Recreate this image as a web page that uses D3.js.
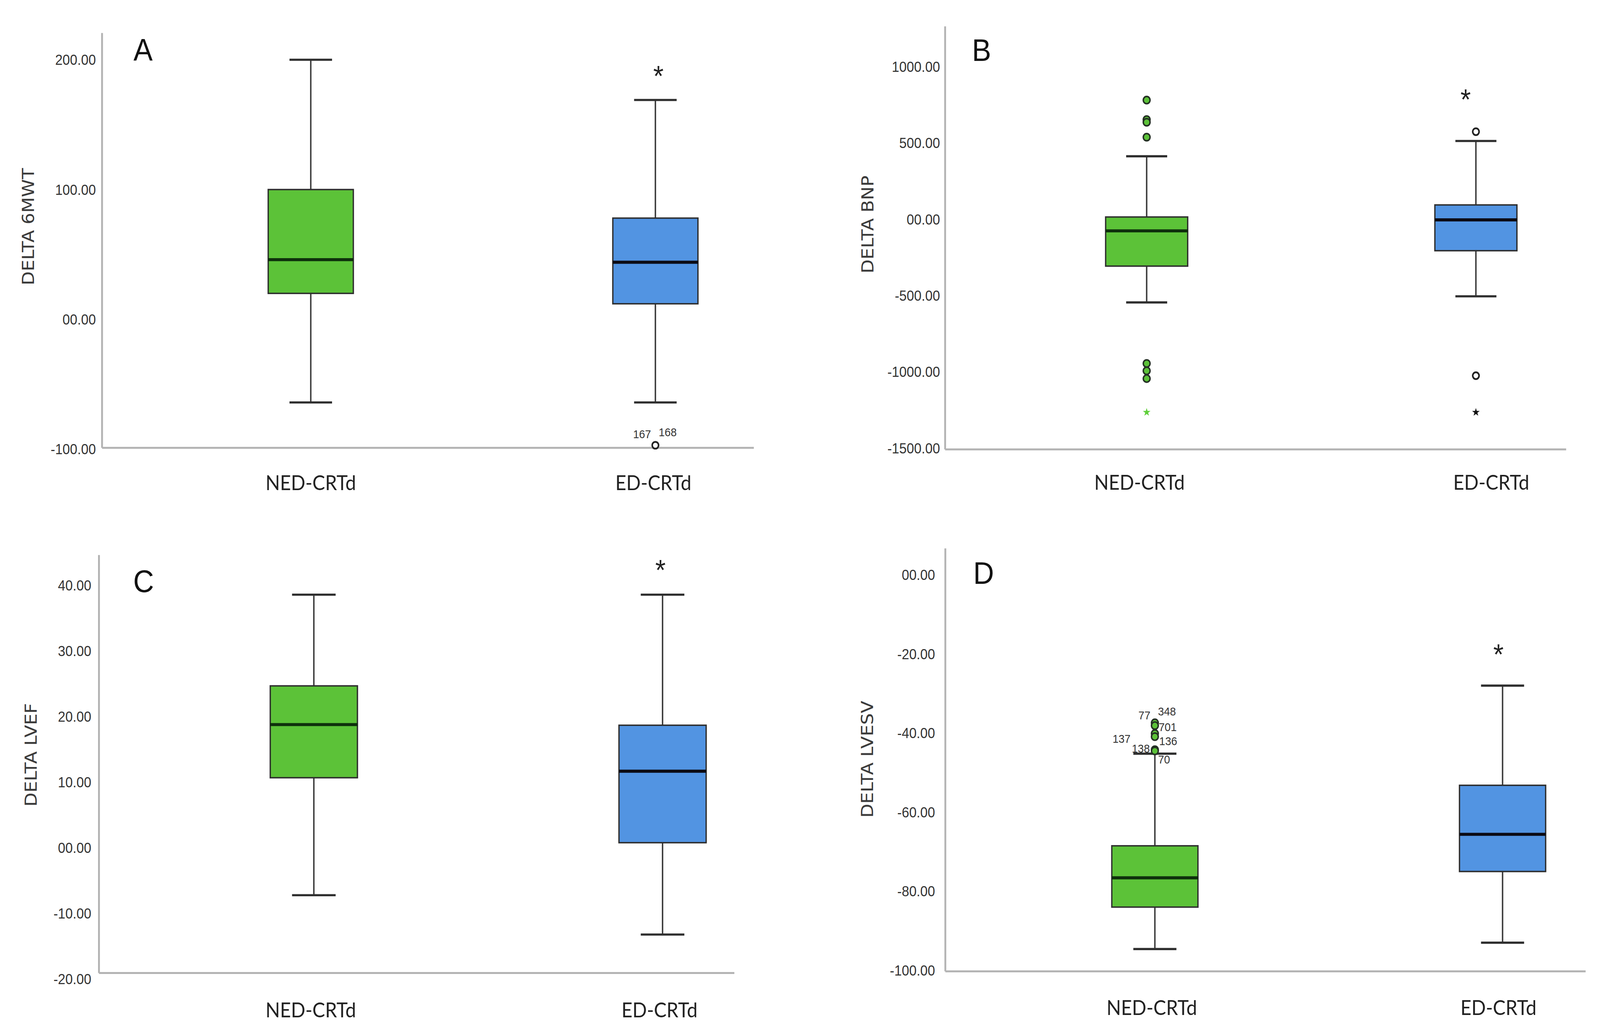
<!DOCTYPE html>
<html><head><meta charset="utf-8">
<script src="https://cdn.jsdelivr.net/npm/d3@7"></script>
<style>html,body{margin:0;padding:0;background:#fff;width:100%;height:100%;overflow:hidden;} svg{display:block;width:100vw;height:100vh;}</style>
</head><body>
<svg id="chart"></svg>
<script>
// ---------------- DATA ----------------
const categories = ["NED-CRTd", "ED-CRTd"];

// Panel A – DELTA 6MWT
const aTitle = "DELTA 6MWT";
const aTickValues = [200, 100, 0, -100];
const aTickLabels = ["200.00", "100.00", "00.00", "-100.00"];
const aLow = [-64, -64];
const aQ1 = [20, 12];
const aMedian = [46, 44];
const aQ3 = [100, 78];
const aHigh = [200, 169];
const aOutlierGroup = [1];
const aOutlierValue = [-97];
const aOutlierKind = ["circle"];
const aCaseLabels = ["167", "168"];
const aCaseLabelOf = [0, 0];
const aSigValue = 192.6;

// Panel B – DELTA BNP
const bTitle = "DELTA BNP";
const bTickValues = [1000, 500, 0, -500, -1000, -1500];
const bTickLabels = ["1000.00", "500.00", "00.00", "-500.00", "-1000.00", "-1500.00"];
const bLow = [-545, -505];
const bQ1 = [-307, -206];
const bMedian = [-76, -4];
const bQ3 = [15, 94];
const bHigh = [413, 513];
const bOutlierGroup = [0, 0, 0, 0, 0, 0, 0, 0, 1, 1, 1];
const bOutlierValue = [781, 653, 636, 538, -945, -993, -1044, -1265, 574, -1025, -1265];
const bOutlierKind = ["circle", "circle", "circle", "circle", "circle", "circle", "circle", "extreme", "circle", "circle", "extreme"];
const bCaseLabels = [];
const bCaseLabelOf = [];
const bSigValue = 830;

// Panel C – DELTA LVEF
const cTitle = "DELTA LVEF";
const cTickValues = [40, 30, 20, 10, 0, -10, -20];
const cTickLabels = ["40.00", "30.00", "20.00", "10.00", "00.00", "-10.00", "-20.00"];
const cLow = [-7.2, -13.2];
const cQ1 = [10.7, 0.8];
const cMedian = [18.8, 11.7];
const cQ3 = [24.7, 18.7];
const cHigh = [38.6, 38.6];
const cOutlierGroup = [];
const cOutlierValue = [];
const cOutlierKind = [];
const cCaseLabels = [];
const cCaseLabelOf = [];
const cSigValue = 43.4;

// Panel D – DELTA LVESV
const dTitle = "DELTA LVESV";
const dTickValues = [0, -20, -40, -60, -80, -100];
const dTickLabels = ["00.00", "-20.00", "-40.00", "-60.00", "-80.00", "-100.00"];
const dLow = [-94.6, -93];
const dQ1 = [-84, -75];
const dMedian = [-76.6, -65.6];
const dQ3 = [-68.5, -53.2];
const dHigh = [-45.2, -28];
const dOutlierGroup = [0, 0, 0, 0, 0, 0];
const dOutlierValue = [-37.4, -38.1, -40.1, -40.9, -44.2, -44.5];
const dOutlierKind = ["circle", "circle", "circle", "circle", "circle", "circle"];
const dCaseLabels = ["348", "77", "701", "137", "136", "138", "70"];
const dCaseLabelOf = [0, 0, 1, 3, 3, 4, 5];
const dSigValue = -18.4;

// ---------------- LAYOUT (display units, viewBox 1560 x 937) ----------------
const layouts = {
  A: {axisX: 99.5, axisTop: 30, axisY: 407, axisEnd: 735, yHi: 54.3, yLo: 408.2, centers: [303, 639], boxW: 83, pad: 6,
      titleX: 27.5, titleY: 206, letterX: 139.5, letterY: 55, catY: 445.5, catDx: [0, -2], sigDx: 3,
      caseOffsets: [[-13, -10], [12, -12]]},
  B: {axisX: 921.5, axisTop: 24, axisY: 408.4, axisEnd: 1527, yHi: 60.6, yLo: 407.3, centers: [1118, 1439], boxW: 80, pad: 5,
      titleX: 846, titleY: 204, letterX: 957, letterY: 55.5, catY: 445, catDx: [-7, 15], sigDx: -10,
      caseOffsets: []},
  C: {axisX: 96.5, axisTop: 504.4, axisY: 884.3, axisEnd: 716, yHi: 532.1, yLo: 889.9, centers: [306, 646], boxW: 85, pad: 7.5,
      titleX: 30, titleY: 686, letterX: 140, letterY: 538, catY: 924.5, catDx: [-3, -3], sigDx: -2,
      caseOffsets: []},
  D: {axisX: 921.7, axisTop: 498.4, axisY: 882.8, axisEnd: 1546, yHi: 522.5, yLo: 881.9, centers: [1126, 1465], boxW: 84, pad: 10,
      titleX: 845.6, titleY: 690, letterX: 959, letterY: 530.5, catY: 922.5, catDx: [-3, -4], sigDx: -4,
      caseOffsets: [[11.8, -10.3], [-10.2, -6.8], [12.5, 1.3], [-32.5, 2], [13, 4], [-13.7, -1], [9, 7.7]]}
};

const panels = [
  {key: "A", title: aTitle, ticks: aTickValues, tickLabels: aTickLabels, low: aLow, q1: aQ1, med: aMedian, q3: aQ3, high: aHigh,
   outGroup: aOutlierGroup, outValue: aOutlierValue, outKind: aOutlierKind, caseLabels: aCaseLabels, caseOf: aCaseLabelOf, sig: aSigValue},
  {key: "B", title: bTitle, ticks: bTickValues, tickLabels: bTickLabels, low: bLow, q1: bQ1, med: bMedian, q3: bQ3, high: bHigh,
   outGroup: bOutlierGroup, outValue: bOutlierValue, outKind: bOutlierKind, caseLabels: bCaseLabels, caseOf: bCaseLabelOf, sig: bSigValue},
  {key: "C", title: cTitle, ticks: cTickValues, tickLabels: cTickLabels, low: cLow, q1: cQ1, med: cMedian, q3: cQ3, high: cHigh,
   outGroup: cOutlierGroup, outValue: cOutlierValue, outKind: cOutlierKind, caseLabels: cCaseLabels, caseOf: cCaseLabelOf, sig: cSigValue},
  {key: "D", title: dTitle, ticks: dTickValues, tickLabels: dTickLabels, low: dLow, q1: dQ1, med: dMedian, q3: dQ3, high: dHigh,
   outGroup: dOutlierGroup, outValue: dOutlierValue, outKind: dOutlierKind, caseLabels: dCaseLabels, caseOf: dCaseLabelOf, sig: dSigValue}
];

const fills = ["#5cc238", "#5294e2"];
const medianColors = ["#0e300c", "#0b0b14"];
const W = 1560, H = 937;

const svg = d3.select("#chart")
  .attr("viewBox", `0 0 ${W} ${H}`)
  .attr("preserveAspectRatio", "none");

svg.append("rect").attr("width", W).attr("height", H).attr("fill", "#fff");

const starPath = d3.symbol().type(d3.symbolStar).size(17)();

panels.forEach(p => {
  const L = layouts[p.key];
  const g = svg.append("g").attr("class", "panel-" + p.key);

  const y = d3.scaleLinear()
    .domain([p.ticks[0], p.ticks[p.ticks.length - 1]])
    .range([L.yHi, L.yLo]);
  const x = d3.scalePoint().domain(categories).range(L.centers);

  // axis lines
  g.append("line").attr("x1", L.axisX).attr("x2", L.axisX).attr("y1", L.axisTop).attr("y2", L.axisY)
    .attr("stroke", "#b3b3b3").attr("stroke-width", 1.8);
  g.append("line").attr("x1", L.axisX).attr("x2", L.axisEnd).attr("y1", L.axisY).attr("y2", L.axisY)
    .attr("stroke", "#b3b3b3").attr("stroke-width", 1.8);

  // y tick labels
  const yAxis = d3.axisLeft(y)
    .tickValues(p.ticks)
    .tickFormat((d, i) => p.tickLabels[i])
    .tickSize(0)
    .tickPadding(L.pad);
  const ag = g.append("g").attr("transform", `translate(${L.axisX},0)`).call(yAxis);
  ag.select(".domain").remove();
  ag.selectAll("text")
    .attr("font-family", "'Liberation Sans', Arial, sans-serif")
    .attr("font-size", 13)
    .attr("fill", "#333");

  // y title
  g.append("text")
    .attr("transform", `translate(${L.titleX},${L.titleY}) rotate(-90)`)
    .attr("text-anchor", "middle").attr("dominant-baseline", "central")
    .attr("font-family", "'DejaVu Sans', Verdana, sans-serif")
    .attr("font-size", 16.5).attr("fill", "#3a3a3a")
    .text(p.title);

  // panel letter
  g.append("text").attr("x", L.letterX).attr("y", L.letterY)
    .attr("text-anchor", "middle")
    .attr("font-family", "'Liberation Sans', Arial, sans-serif")
    .attr("font-size", 28).attr("fill", "#111")
    .text(p.key);

  // category labels
  g.selectAll(".cat").data(categories).join("text")
    .attr("class", "cat")
    .attr("x", (d, i) => x(d) + L.catDx[i]).attr("y", L.catY)
    .attr("text-anchor", "middle")
    .attr("font-family", "Lato, 'Open Sans', sans-serif")
    .attr("font-size", 18.5).attr("fill", "#222")
    .text(d => d);

  // boxes
  categories.forEach((cat, i) => {
    const cx = x(cat), bw = L.boxW, cw = bw / 2;
    const bg = g.append("g");
    bg.append("line").attr("x1", cx).attr("x2", cx).attr("y1", y(p.high[i])).attr("y2", y(p.q3[i]))
      .attr("stroke", "#3a3a3a").attr("stroke-width", 1.4);
    bg.append("line").attr("x1", cx).attr("x2", cx).attr("y1", y(p.q1[i])).attr("y2", y(p.low[i]))
      .attr("stroke", "#3a3a3a").attr("stroke-width", 1.4);
    [p.high[i], p.low[i]].forEach(v => {
      bg.append("line").attr("x1", cx - cw / 2).attr("x2", cx + cw / 2).attr("y1", y(v)).attr("y2", y(v))
        .attr("stroke", "#2f2f2f").attr("stroke-width", 2);
    });
    bg.append("rect")
      .attr("x", cx - bw / 2).attr("y", y(p.q3[i]))
      .attr("width", bw).attr("height", y(p.q1[i]) - y(p.q3[i]))
      .attr("fill", fills[i]).attr("stroke", "#2e2e2e").attr("stroke-width", 1.3);
    bg.append("line").attr("x1", cx - bw / 2).attr("x2", cx + bw / 2)
      .attr("y1", y(p.med[i])).attr("y2", y(p.med[i]))
      .attr("stroke", medianColors[i]).attr("stroke-width", 2.8);
  });

  // outliers (circles) and extremes (stars)
  p.outValue.forEach((v, k) => {
    const gi = p.outGroup[k];
    const cx = x(categories[gi]);
    if (p.outKind[k] === "circle") {
      g.append("circle").attr("cx", cx).attr("cy", y(v)).attr("r", gi === 0 ? 3.3 : 3.1)
        .attr("fill", gi === 0 ? fills[0] : "#fff")
        .attr("stroke", gi === 0 ? "#243024" : "#222")
        .attr("stroke-width", gi === 0 ? 1.4 : 1.6);
    } else {
      g.append("path").attr("d", starPath)
        .attr("transform", `translate(${cx},${y(v)})`)
        .attr("fill", gi === 0 ? "#5fcf3a" : "#111");
    }
  });

  // case labels
  p.caseLabels.forEach((t, k) => {
    const oi = p.caseOf[k];
    const cx = x(categories[p.outGroup[oi]]);
    const off = L.caseOffsets[k];
    g.append("text").attr("x", cx + off[0]).attr("y", y(p.outValue[oi]) + off[1])
      .attr("text-anchor", "middle").attr("dominant-baseline", "central")
      .attr("font-family", "'Liberation Sans', Arial, sans-serif")
      .attr("font-size", 10.5).attr("fill", "#333")
      .text(t);
  });

  // significance asterisk
  const sf = 26;
  g.append("text").attr("x", x(categories[1]) + L.sigDx).attr("y", y(p.sig) + 0.58 * sf)
    .attr("text-anchor", "middle")
    .attr("font-family", "'Liberation Sans', Arial, sans-serif")
    .attr("font-size", sf).attr("fill", "#222")
    .text("*");
});
</script>
</body></html>
